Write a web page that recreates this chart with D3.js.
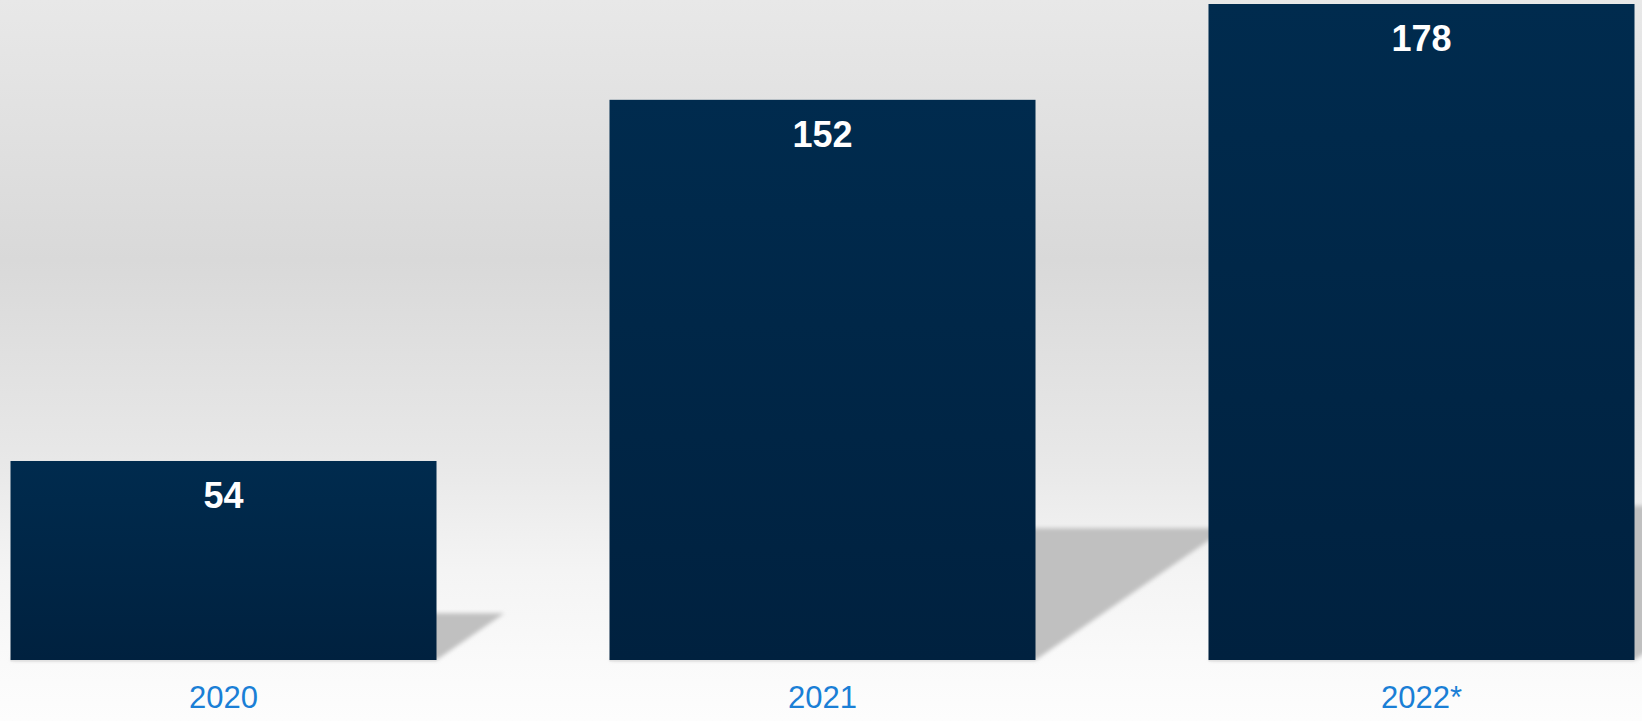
<!DOCTYPE html>
<html>
<head>
<meta charset="utf-8">
<script src="https://cdn.jsdelivr.net/npm/d3@7"></script>
<style>
html,body{margin:0;padding:0;overflow:hidden;background:#fff;}
svg{display:block;}
</style>
</head>
<body>
<svg id="chart" width="1642" height="721"></svg>
<script>
const categories = ["2020", "2021", "2022*"];
const values = [54, 152, 178];
const valueLabels = ["54", "152", "178"];

const W = 1642, H = 721;
const svg = d3.select("#chart");
const defs = svg.append("defs");

const bg = defs.append("linearGradient").attr("id","bg").attr("x1",0).attr("y1",0).attr("x2",0).attr("y2",1);
[[0,"#e8e8e8"],[0.36,"#d9d9d9"],[0.64,"#e8e8e8"],[0.79,"#f4f4f4"],[0.92,"#fafafa"],[1,"#fdfdfd"]]
  .forEach(([o,c]) => bg.append("stop").attr("offset",o).attr("stop-color",c));

const bar = defs.append("linearGradient").attr("id","bar").attr("x1",0).attr("y1",0).attr("x2",0).attr("y2",1);
bar.append("stop").attr("offset",0).attr("stop-color","#002b4e");
bar.append("stop").attr("offset",1).attr("stop-color","#00213f");

const blur = defs.append("filter").attr("id","blur").attr("x","-20%").attr("y","-20%").attr("width","140%").attr("height","140%");
blur.append("feGaussianBlur").attr("stdDeviation",2.2);

svg.append("rect").attr("width",W).attr("height",H).attr("fill","url(#bg)");

const x = d3.scaleBand().domain(categories).range([10.5, 1634.5]).paddingInner(0.2888).paddingOuter(0);
const y = d3.scaleLinear().domain([0, 178]).range([660, 4]);

const data = categories.map((c,i) => ({c, v: values[i], label: valueLabels[i]}));

// floor shadows
svg.append("g").selectAll("path").data(data).join("path")
  .attr("d", d => {
    const x0 = x(d.c), x1 = x(d.c) + x.bandwidth();
    const h = y(0) - y(d.v);
    const s = h * 0.235, dx = s * 1.45;
    return `M${x0},${y(0)} L${x0+dx},${y(0)-s} L${x1+dx},${y(0)-s} L${x1},${y(0)} Z`;
  })
  .attr("fill","#c0c0c0")
  .attr("filter","url(#blur)");

// faint base line under bars
svg.append("g").selectAll("rect").data(data).join("rect")
  .attr("x", d => x(d.c)).attr("y", y(0)).attr("width", x.bandwidth()).attr("height", 1.5)
  .attr("fill","#e2e2e2");

svg.append("g").selectAll("rect").data(data).join("rect")
  .attr("x", d => x(d.c))
  .attr("y", d => y(d.v))
  .attr("width", x.bandwidth())
  .attr("height", d => y(0) - y(d.v))
  .attr("fill","url(#bar)");

svg.append("g").selectAll("text").data(data).join("text")
  .attr("x", d => x(d.c) + x.bandwidth()/2)
  .attr("y", d => y(d.v) + 47)
  .attr("text-anchor","middle")
  .attr("font-family","'Liberation Sans', Arial, sans-serif")
  .attr("font-weight","bold")
  .attr("font-size", 36)
  .attr("fill","#ffffff")
  .text(d => d.label);

const xAxis = svg.append("g").attr("transform", `translate(0,${y(0)})`)
  .call(d3.axisBottom(x).tickSize(0).tickPadding(0));
xAxis.select(".domain").remove();
xAxis.selectAll("text")
  .attr("dy", null)
  .attr("y", 48)
  .attr("font-family","'Liberation Sans', Arial, sans-serif")
  .attr("font-size", 31)
  .attr("fill","#1a7fd6");
</script>
</body>
</html>
